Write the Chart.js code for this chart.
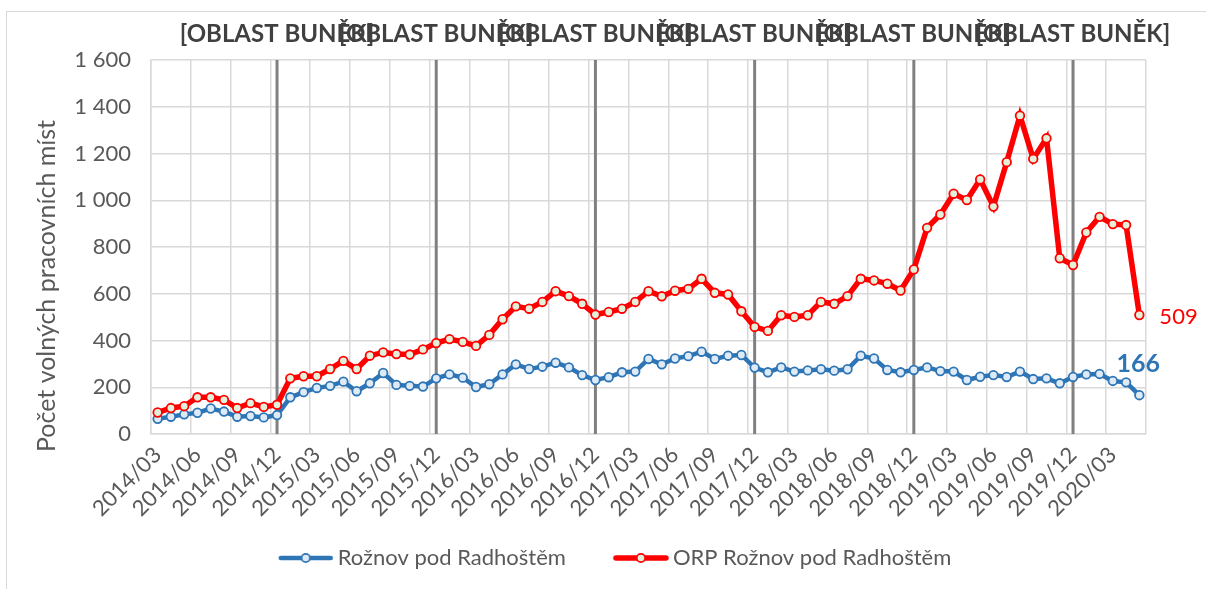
<!DOCTYPE html>
<html>
<head>
<meta charset="utf-8">
<script src="https://cdn.jsdelivr.net/npm/chart.js@4.4.1/dist/chart.umd.min.js"></script>
<style>
  html, body { margin: 0; padding: 0; background: #fff; }
  #frame { position: absolute; left: 6px; top: 11px; width: 1300px; height: 700px; border: 1px solid #d9d9d9; }
  #wrap { position: absolute; left: 0; top: 0; width: 1206px; height: 589px; }
</style>
</head>
<body>
<div id="frame"></div>
<div id="wrap"><canvas id="LineChart" width="1206" height="589"></canvas></div>
<script>
const months = [
  "2014/03","2014/04","2014/05","2014/06","2014/07","2014/08","2014/09","2014/10","2014/11","2014/12",
  "2015/01","2015/02","2015/03","2015/04","2015/05","2015/06","2015/07","2015/08","2015/09","2015/10","2015/11","2015/12",
  "2016/01","2016/02","2016/03","2016/04","2016/05","2016/06","2016/07","2016/08","2016/09","2016/10","2016/11","2016/12",
  "2017/01","2017/02","2017/03","2017/04","2017/05","2017/06","2017/07","2017/08","2017/09","2017/10","2017/11","2017/12",
  "2018/01","2018/02","2018/03","2018/04","2018/05","2018/06","2018/07","2018/08","2018/09","2018/10","2018/11","2018/12",
  "2019/01","2019/02","2019/03","2019/04","2019/05","2019/06","2019/07","2019/08","2019/09","2019/10","2019/11","2019/12",
  "2020/01","2020/02","2020/03","2020/04","2020/05"
];

const tickLabels = [
  "2014/03","2014/06","2014/09","2014/12","2015/03","2015/06","2015/09","2015/12",
  "2016/03","2016/06","2016/09","2016/12","2017/03","2017/06","2017/09","2017/12",
  "2018/03","2018/06","2018/09","2018/12","2019/03","2019/06","2019/09","2019/12","2020/03"
];

// Rožnov pod Radhoštěm
const roznov = [
  65, 74, 84, 91, 109, 96, 74, 77, 71, 81,
  157, 179, 197, 206, 224, 183, 217, 261, 210, 206, 203, 238,
  255, 241, 201, 213, 255, 298, 278, 288, 305, 285, 252, 231,
  243, 264, 267, 321, 298, 323, 333, 352, 321, 335, 338, 284,
  264, 285, 267, 272, 277, 271, 277, 335, 323, 274, 264, 274,
  285, 269, 267, 231, 245, 252, 244, 267, 235, 238, 217, 244,
  255, 257, 227, 221, 166
];

// ORP Rožnov pod Radhoštěm
const orpRoznov = [
  92, 111, 119, 157, 157, 146, 111, 132, 116, 125,
  238, 247, 247, 278, 313, 278, 335, 349, 342, 340, 362, 389,
  406, 394, 377, 424, 491, 546, 536, 565, 611, 590, 557, 511,
  522, 536, 565, 611, 589, 613, 621, 664, 604, 597, 525, 458,
  441, 508, 501, 508, 565, 557, 590, 664, 657, 643, 614, 704,
  882, 939, 1028, 1001, 1089, 973, 1163, 1362, 1177, 1265, 752, 723,
  862, 929, 898, 894, 509
];

const yearMarks = ["2014/12","2015/12","2016/12","2017/12","2018/12","2019/12"];
const markText = "[OBLAST BUNĚK]";
const seriesNames = ["Rožnov pod Radhoštěm", "ORP Rožnov pod Radhoštěm"];
const yTitle = "Počet volných pracovních míst";

const FONT = "Lato";
const TEXT = "#595959";
const BLUE = "#2e75b6";
const RED = "#ff0000";

function thousands(v) {
  return String(v).replace(/\B(?=(\d{3})+(?!\d))/g, " ");
}

// legend symbol: line with a circle marker, a bit wider than the legend box
function legendSymbol(color, fill, lw) {
  const c = document.createElement("canvas");
  c.width = 102; c.height = 16;
  const g = c.getContext("2d");
  g.strokeStyle = color;
  g.lineWidth = lw;
  g.lineCap = "round";
  g.beginPath(); g.moveTo(48, 8); g.lineTo(98, 8); g.stroke();
  g.beginPath(); g.arc(73, 8, 4.2, 0, Math.PI * 2);
  g.fillStyle = fill; g.fill();
  g.lineWidth = 1.8; g.stroke();
  return c;
}

const yearLinesPlugin = {
  id: "yearLines",
  afterLayout(chart) {
    // legend sits a little right of the canvas centre in the original
    chart.legend.left += 23;
    chart.legend.right += 23;
  },
  beforeDatasetsDraw(chart) {
    const ctx = chart.ctx;
    const x = chart.scales.x;
    const area = chart.chartArea;
    ctx.save();
    ctx.strokeStyle = "#808080";
    ctx.lineWidth = 3;
    yearMarks.forEach((m) => {
      const px = x.getPixelForValue(months.indexOf(m));
      ctx.beginPath();
      ctx.moveTo(px, area.top);
      ctx.lineTo(px, area.bottom);
      ctx.stroke();
    });
    ctx.restore();
  },
  afterDraw(chart) {
    const ctx = chart.ctx;
    const x = chart.scales.x;
    ctx.save();
    ctx.font = "bold 24px " + FONT;
    ctx.fillStyle = "#404040";
    ctx.textAlign = "center";
    ctx.textBaseline = "middle";
    yearMarks.forEach((m) => {
      const px = x.getPixelForValue(months.indexOf(m));
      ctx.fillText(markText, px, 34);
    });
    // y axis title
    ctx.translate(47, 286);
    ctx.rotate(-Math.PI / 2);
    ctx.font = "25px " + FONT;
    ctx.fillStyle = TEXT;
    ctx.fillText(yTitle, 0, 0);
    ctx.restore();
  }
};

const lastLabelPlugin = {
  id: "lastLabel",
  afterDatasetsDraw(chart) {
    const ctx = chart.ctx;
    ctx.save();
    const mb = chart.getDatasetMeta(0).data;
    const pb = mb[mb.length - 1];
    ctx.font = "bold 25px " + FONT;
    ctx.fillStyle = BLUE;
    ctx.textAlign = "center";
    ctx.textBaseline = "middle";
    ctx.fillText(String(roznov[roznov.length - 1]), pb.x - 1, pb.y - 31);

    const mr = chart.getDatasetMeta(1).data;
    const pr = mr[mr.length - 1];
    ctx.font = "22px " + FONT;
    ctx.fillStyle = RED;
    ctx.textAlign = "left";
    ctx.fillText(String(orpRoznov[orpRoznov.length - 1]), pr.x + 20, pr.y + 2);
    ctx.restore();
  }
};

const ctx = document.getElementById("LineChart");
const LineChart = new Chart(ctx, {
  type: "line",
  data: {
    labels: months,
    datasets: [
      {
        label: seriesNames[0],
        data: roznov,
        borderColor: BLUE,
        borderWidth: 4.5,
        pointRadius: 4.3,
        pointBorderWidth: 1.8,
        pointBackgroundColor: "#deebf7",
        pointBorderColor: BLUE,
        tension: 0,
        order: 2,
      },
      {
        label: seriesNames[1],
        data: orpRoznov,
        borderColor: RED,
        borderWidth: 5.5,
        pointRadius: 4.3,
        pointBorderWidth: 1.8,
        pointBackgroundColor: "#e2f0d9",
        pointBorderColor: RED,
        tension: 0,
        order: 1,
      },
    ],
  },
  options: {
    responsive: false,
    animation: false,
    layout: { padding: { top: 60, right: 60, bottom: 10, left: 0 } },
    plugins: {
      title: { display: false },
      tooltip: { enabled: false },
      legend: {
        position: "bottom",
        labels: {
          usePointStyle: true,
          pointStyleWidth: 86,
          padding: 10,
          color: TEXT,
          font: { family: FONT, size: 22 },
          generateLabels(chart) {
            return chart.data.datasets.map((ds, i) => ({
              text: ds.label,
              fontColor: TEXT,
              pointStyle: legendSymbol(ds.borderColor, ds.pointBackgroundColor, ds.borderWidth),
              datasetIndex: i,
              hidden: false,
              lineWidth: 0,
            }));
          },
        },
      },
    },
    scales: {
      x: {
        offset: true,
        afterFit(scale) { scale.height = 103; },
        grid: {
          offset: true,
          drawTicks: false,
          lineWidth: 1.5,
          color(c) {
            if (c.index === undefined) return "#d9d9d9";
            return tickLabels.includes(months[c.index]) ? "#d9d9d9" : "transparent";
          },
        },
        border: { color: "#d9d9d9", width: 1.5 },
        ticks: {
          autoSkip: false,
          maxRotation: 45,
          minRotation: 45,
          padding: 8,
          color: TEXT,
          font: { family: FONT, size: 22 },
          callback(value, index) {
            const m = months[index];
            return tickLabels.includes(m) ? m : "";
          },
        },
      },
      y: {
        min: 0,
        max: 1600,
        afterFit(scale) { scale.width = 151; },
        grid: { color: "#d9d9d9", lineWidth: 1.5, drawTicks: false },
        border: { color: "#d9d9d9", width: 1.5 },
        ticks: {
          stepSize: 200,
          padding: 20,
          color: TEXT,
          font: { family: FONT, size: 22 },
          callback(value) { return thousands(value); },
        },
      },
    },
  },
  plugins: [yearLinesPlugin, lastLabelPlugin],
});
</script>
</body>
</html>
